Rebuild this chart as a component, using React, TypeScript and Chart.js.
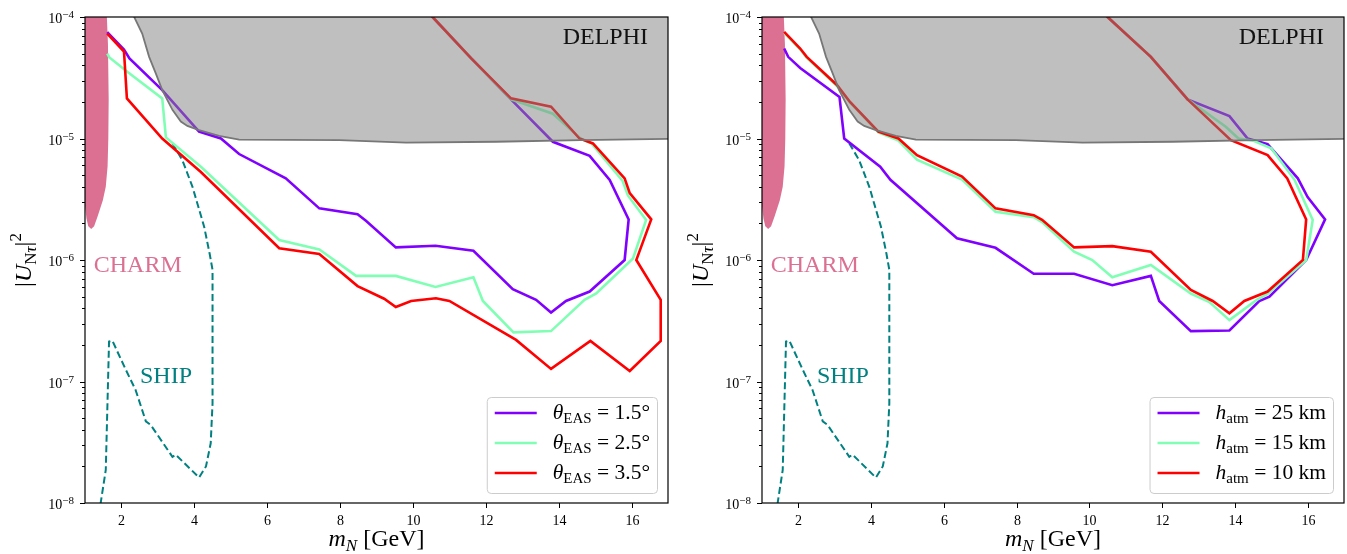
import React, { useEffect, useRef } from 'react';
import { Chart, registerables } from 'chart.js';

Chart.register(...registerables);

const FONT = '"Liberation Serif", "DejaVu Serif", serif';

// ---------- axes ----------
const X_MIN = 1;
const X_MAX = 17;
const Y_MIN = 1e-8;
const Y_MAX = 1e-4;
const X_TICKS = [2, 4, 6, 8, 10, 12, 14, 16];
const Y_DECADES = [-8, -7, -6, -5, -4];
const MINOR_MULTIPLIERS = [2, 3, 4, 5, 6, 7, 8, 9];

type Pt = [number, number];

// ---------- shared regions ----------
const DELPHI: Pt[] = [
  [2.25, 2e-4], [2.35, 1.0e-4], [2.57, 7.3e-5], [2.76, 4.7e-5], [2.94, 3.45e-5],
  [3.12, 2.5e-5], [3.4, 1.72e-5], [3.63, 1.38e-5], [3.81, 1.27e-5], [4.13, 1.17e-5],
  [4.68, 1.05e-5], [5.23, 9.8e-6], [7.98, 9.7e-6], [9.81, 9.25e-6], [12.28, 9.4e-6],
  [14.6, 9.7e-6], [17.5, 1.0e-5], [17.5, 2e-4],
];

const CHARM: Pt[] = [
  [1.6, 2e-4], [1.6, 1e-4], [1.63, 6e-5], [1.65, 2.1e-5], [1.64, 1e-5], [1.62, 5.9e-6],
  [1.57, 4e-6], [1.49, 3.1e-6], [1.35, 2.3e-6], [1.25, 1.9e-6], [1.17, 1.8e-6],
  [1.09, 1.9e-6], [1.04, 2.2e-6], [1.0, 2.8e-6], [0.9, 5e-6], [0.9, 2e-4],
];

const SHIP: Pt[] = [
  [1.41, 8e-9], [1.43, 1.0e-8], [1.57, 1.87e-8], [1.66, 2.13e-7], [1.75, 2.17e-7],
  [2.12, 1.25e-7], [2.39, 8.5e-8], [2.67, 4.7e-8], [2.8, 4.4e-8], [3.4, 2.4e-8],
  [3.49, 2.5e-8], [4.13, 1.62e-8], [4.32, 2.0e-8], [4.45, 3.1e-8], [4.5, 6.6e-8],
  [4.5, 8.3e-7], [4.42, 1.13e-6], [4.27, 1.88e-6], [3.95, 4.0e-6], [3.67, 6.65e-6],
  [3.4, 9.1e-6], [3.36, 9.5e-6],
];

// ---------- left panel: theta_EAS ----------
const THETA_15: Pt[] = [
  [1.61, 7.5e-5], [2.07, 5.4e-5], [2.22, 4.57e-5], [3.12, 2.5e-5], [4.13, 1.14e-5],
  [4.73, 1.0e-5], [5.23, 7.45e-6], [6.51, 4.7e-6], [7.43, 2.66e-6], [8.48, 2.38e-6],
  [8.71, 2.1e-6], [9.53, 1.27e-6], [10.62, 1.31e-6], [11.66, 1.19e-6], [12.74, 5.76e-7],
  [13.38, 4.7e-7], [13.79, 3.7e-7], [14.2, 4.6e-7], [14.85, 5.5e-7], [15.81, 1.0e-6],
  [15.92, 2.16e-6], [15.4, 4.56e-6], [14.85, 7.2e-6], [13.84, 9.4e-6], [12.69, 2.1e-5],
  [11.6, 4.57e-5], [10.54, 1.0e-4], [9.9, 1.6e-4],
];
const THETA_25: Pt[] = [
  [1.61, 5.0e-5], [1.67, 4.65e-5], [2.16, 3.55e-5], [3.12, 2.14e-5], [3.22, 1.02e-5],
  [4.18, 5.86e-6], [6.33, 1.46e-6], [7.43, 1.22e-6], [8.44, 7.4e-7], [9.53, 7.4e-7],
  [10.62, 6.0e-7], [11.66, 7.2e-7], [11.92, 4.6e-7], [12.76, 2.54e-7], [13.79, 2.6e-7],
  [14.71, 4.7e-7], [15.03, 5.3e-7], [16.04, 1.03e-6], [16.4, 2.14e-6], [15.9, 3.4e-6],
  [15.75, 4.5e-6], [14.9, 9.1e-6], [14.6, 1.0e-5], [13.84, 1.6e-5], [12.69, 2.1e-5],
  [11.6, 4.57e-5], [10.54, 1.0e-4], [9.9, 1.6e-4],
];
const THETA_35: Pt[] = [
  [1.61, 7.3e-5], [2.07, 5.2e-5], [2.15, 2.14e-5], [3.12, 1.0e-5], [4.18, 5.3e-6],
  [6.33, 1.25e-6], [7.43, 1.12e-6], [8.48, 6.1e-7], [9.21, 4.8e-7], [9.53, 4.1e-7],
  [9.95, 4.6e-7], [10.63, 4.84e-7], [11.0, 4.6e-7], [12.83, 2.2e-7], [13.79, 1.27e-7],
  [14.87, 2.16e-7], [15.95, 1.22e-7], [16.8, 2.16e-7], [16.8, 4.7e-7], [16.13, 1.0e-6],
  [16.54, 2.16e-6], [15.95, 3.55e-6], [15.81, 4.7e-6], [14.94, 9.1e-6], [14.57, 1.0e-5],
  [13.79, 1.83e-5], [12.69, 2.14e-5], [11.6, 4.57e-5], [10.54, 1.0e-4], [9.9, 1.6e-4],
];

// ---------- right panel: h_atm ----------
const HATM_25: Pt[] = [
  [1.61, 5.5e-5], [1.72, 4.7e-5], [2.05, 3.8e-5], [3.13, 2.2e-5], [3.26, 1.0e-5],
  [4.25, 5.86e-6], [4.53, 4.57e-6], [6.36, 1.51e-6], [7.42, 1.26e-6], [8.47, 7.7e-7],
  [9.58, 7.7e-7], [10.63, 6.2e-7], [11.69, 7.4e-7], [11.92, 4.6e-7], [12.79, 2.6e-7],
  [13.85, 2.63e-7], [14.67, 4.6e-7], [14.95, 5.0e-7], [15.96, 1.0e-6], [16.48, 2.16e-6],
  [16.0, 3.3e-6], [15.73, 4.7e-6], [14.9, 9.0e-6], [14.35, 1.0e-5], [13.85, 1.53e-5],
  [12.7, 2.1e-5], [11.69, 4.7e-5], [10.5, 1.0e-4], [9.9, 1.55e-4],
];
const HATM_15: Pt[] = [
  [1.61, 7.4e-5], [2.05, 5.4e-5], [2.23, 4.6e-5], [3.06, 2.7e-5], [3.42, 1.98e-5],
  [4.2, 1.12e-5], [4.75, 9.6e-6], [5.26, 6.7e-6], [6.5, 4.6e-6], [7.42, 2.5e-6],
  [8.47, 2.25e-6], [8.7, 2.05e-6], [9.58, 1.17e-6], [10.08, 1.0e-6], [10.63, 7.2e-7],
  [11.69, 9.1e-7], [12.79, 5.3e-7], [13.3, 4.5e-7], [13.85, 3.2e-7], [14.6, 4.7e-7],
  [14.9, 5.25e-7], [15.96, 1.0e-6], [16.14, 2.14e-6], [15.64, 4.57e-6], [15.0, 8.3e-6],
  [14.5, 9.6e-6], [14.1, 1.0e-5], [13.75, 1.25e-5], [12.7, 2.1e-5], [11.69, 4.7e-5],
  [10.5, 1.0e-4], [9.9, 1.55e-4],
];
const HATM_10: Pt[] = [
  [1.61, 7.55e-5], [2.05, 5.5e-5], [2.23, 4.7e-5], [3.06, 2.76e-5], [3.42, 2.0e-5],
  [4.2, 1.14e-5], [4.75, 1.0e-5], [5.26, 7.3e-6], [6.5, 4.86e-6], [7.42, 2.66e-6],
  [8.47, 2.34e-6], [8.7, 2.14e-6], [9.58, 1.27e-6], [10.63, 1.3e-6], [11.69, 1.17e-6],
  [12.79, 5.67e-7], [13.39, 4.6e-7], [13.85, 3.64e-7], [14.26, 4.6e-7], [14.9, 5.5e-7],
  [15.87, 1.0e-6], [15.96, 2.16e-6], [15.44, 4.7e-6], [14.9, 7.3e-6], [13.89, 9.7e-6],
  [12.7, 2.1e-5], [11.69, 4.7e-5], [10.5, 1.0e-4], [9.9, 1.55e-4],
];

const CURVE_COLORS = ['#8000FF', '#80FFB4', '#FF0000'];
const THETA_LABELS = ['1.5', '2.5', '3.5'];
const HATM_LABELS = ['25', '15', '10'];

const CHARM_LABEL_POS: Pt = [1.24, 8.0e-7];
const SHIP_LABEL_POS: Pt = [2.51, 9.8e-8];

const CHARM_COLOR = '#DB7093';
const SHIP_COLOR = '#008080';

// ---------- rich text helpers ----------
type Seg = { t: string; size: number; italic?: boolean; dy?: number };

function setFont(ctx: CanvasRenderingContext2D, s: Seg) {
  ctx.font = `${s.italic ? 'italic ' : ''}${s.size}px ${FONT}`;
}
function richWidth(ctx: CanvasRenderingContext2D, segs: Seg[]) {
  let w = 0;
  for (const s of segs) {
    setFont(ctx, s);
    w += ctx.measureText(s.t).width;
  }
  return w;
}
function drawRich(ctx: CanvasRenderingContext2D, segs: Seg[], x: number, y: number) {
  let cx = x;
  for (const s of segs) {
    setFont(ctx, s);
    ctx.fillText(s.t, cx, y + (s.dy || 0));
    cx += ctx.measureText(s.t).width;
  }
}

const LEG = 21.5;
const LEG_SUB = 15;
const TITLE = 24;
const TITLE_SUB = 17;

function thetaLabel(v: string): Seg[] {
  return [
    { t: 'θ', size: LEG, italic: true },
    { t: 'EAS', size: LEG_SUB, dy: 4 },
    { t: ` = ${v}°`, size: LEG },
  ];
}
function hatmLabel(v: string): Seg[] {
  return [
    { t: 'h', size: LEG, italic: true },
    { t: 'atm', size: LEG_SUB, dy: 4 },
    { t: ` = ${v} km`, size: LEG },
  ];
}

const Y_TITLE: Seg[] = [
  { t: '|', size: TITLE },
  { t: 'U', size: TITLE, italic: true },
  { t: 'N', size: TITLE_SUB, dy: 5 },
  { t: 'τ', size: TITLE_SUB, italic: true, dy: 5 },
  { t: '|', size: TITLE },
  { t: '2', size: TITLE_SUB, dy: -10 },
];
const X_TITLE: Seg[] = [
  { t: 'm', size: TITLE, italic: true },
  { t: 'N', size: TITLE_SUB, italic: true, dy: 5 },
  { t: ' [GeV]', size: TITLE },
];

type Panel = {
  canvasLeft: number;
  canvasWidth: number;
  padLeft: number;
  padRight: number;
  curves: Pt[][];
  labels: Seg[][];
};

const PANELS: Panel[] = [
  {
    canvasLeft: 0,
    canvasWidth: 676,
    padLeft: 85,
    padRight: 8,
    curves: [THETA_15, THETA_25, THETA_35],
    labels: THETA_LABELS.map(thetaLabel),
  },
  {
    canvasLeft: 676,
    canvasWidth: 671,
    padLeft: 86,
    padRight: 3,
    curves: [HATM_25, HATM_15, HATM_10],
    labels: HATM_LABELS.map(hatmLabel),
  },
];

const toXY = (p: Pt) => ({ x: p[0], y: p[1] });

function makeDecor(panel: Panel) {
  return {
    id: 'decor',
    afterDatasetsDraw(chart: any) {
      const ctx: CanvasRenderingContext2D = chart.ctx;
      const a = chart.chartArea;
      const xs = chart.scales.x;
      const ys = chart.scales.y;
      ctx.save();
      ctx.textBaseline = 'alphabetic';
      // DELPHI
      ctx.fillStyle = '#111';
      ctx.font = `24px ${FONT}`;
      ctx.textAlign = 'right';
      ctx.fillText('DELPHI', a.right - 20, a.top + 27);
      ctx.textAlign = 'left';
      // CHARM
      ctx.fillStyle = CHARM_COLOR;
      ctx.fillText('CHARM', xs.getPixelForValue(CHARM_LABEL_POS[0]), ys.getPixelForValue(CHARM_LABEL_POS[1]));
      // SHIP
      ctx.fillStyle = SHIP_COLOR;
      ctx.fillText('SHIP', xs.getPixelForValue(SHIP_LABEL_POS[0]), ys.getPixelForValue(SHIP_LABEL_POS[1]));
      ctx.restore();
    },
    afterDraw(chart: any) {
      const ctx: CanvasRenderingContext2D = chart.ctx;
      const a = chart.chartArea;
      const xs = chart.scales.x;
      const ys = chart.scales.y;
      ctx.save();
      // frame
      ctx.strokeStyle = '#000';
      ctx.lineWidth = 1.2;
      ctx.strokeRect(a.left, a.top, a.right - a.left, a.bottom - a.top);
      // x ticks
      ctx.lineWidth = 1;
      ctx.fillStyle = '#000';
      ctx.textAlign = 'center';
      ctx.textBaseline = 'alphabetic';
      ctx.font = `14px ${FONT}`;
      for (const v of X_TICKS) {
        const px = Math.round(xs.getPixelForValue(v)) + 0.5;
        ctx.beginPath();
        ctx.moveTo(px, a.bottom);
        ctx.lineTo(px, a.bottom + 5);
        ctx.stroke();
        ctx.fillText(String(v), px, a.bottom + 22);
      }
      // y ticks
      ctx.textAlign = 'left';
      for (const d of Y_DECADES) {
        const py = Math.round(ys.getPixelForValue(Math.pow(10, d))) + 0.5;
        ctx.beginPath();
        ctx.moveTo(a.left - 5, py);
        ctx.lineTo(a.left, py);
        ctx.stroke();
        const segs: Seg[] = [
          { t: '10', size: 14 },
          { t: '\u2212' + String(-d), size: 11, dy: -5 },
        ];
        const w = richWidth(ctx, segs);
        drawRich(ctx, segs, a.left - 11 - w, py + 5);
        if (d < -4) {
          for (const m of MINOR_MULTIPLIERS) {
            const my = Math.round(ys.getPixelForValue(m * Math.pow(10, d))) + 0.5;
            ctx.beginPath();
            ctx.moveTo(a.left - 3, my);
            ctx.lineTo(a.left, my);
            ctx.stroke();
          }
        }
      }
      // axis titles
      const xw = richWidth(ctx, X_TITLE);
      drawRich(ctx, X_TITLE, (a.left + a.right) / 2 - xw / 2, a.bottom + 43);
      const yw = richWidth(ctx, Y_TITLE);
      ctx.save();
      ctx.translate(a.left - 54, (a.top + a.bottom) / 2);
      ctx.rotate(-Math.PI / 2);
      drawRich(ctx, Y_TITLE, -yw / 2, 0);
      ctx.restore();
      // legend
      let tw = 0;
      for (const l of panel.labels) tw = Math.max(tw, richWidth(ctx, l));
      const boxW = 66 + tw + 7;
      const boxH = 96;
      const bx = a.right - 11 - boxW;
      const by = a.bottom - 10 - boxH;
      ctx.beginPath();
      ctx.roundRect(bx + 0.5, by + 0.5, boxW, boxH, 4);
      ctx.fillStyle = 'rgba(255,255,255,0.8)';
      ctx.fill();
      ctx.strokeStyle = '#cccccc';
      ctx.lineWidth = 1;
      ctx.stroke();
      panel.labels.forEach((l, i) => {
        const ry = by + 16 + i * 30;
        ctx.strokeStyle = CURVE_COLORS[i];
        ctx.lineWidth = 2.6;
        ctx.beginPath();
        ctx.moveTo(bx + 8, ry);
        ctx.lineTo(bx + 50, ry);
        ctx.stroke();
        ctx.fillStyle = '#000';
        drawRich(ctx, l, bx + 66, ry + 6);
      });
      ctx.restore();
    },
  };
}

function buildConfig(panel: Panel): any {
  const line = (pts: Pt[], color: string, order: number) => ({
    data: pts.map(toXY),
    borderColor: color,
    borderWidth: 2.6,
    pointRadius: 0,
    tension: 0,
    fill: false,
    order,
    clip: 0,
  });
  return {
    type: 'line',
    data: {
      datasets: [
        {
          data: DELPHI.map(toXY),
          borderColor: '#777777',
          borderWidth: 1.8,
          backgroundColor: 'rgba(128,128,128,0.5)',
          fill: 'shape',
          pointRadius: 0,
          tension: 0,
          order: 0,
          clip: 0,
        },
        line(panel.curves[2], CURVE_COLORS[2], 1),
        line(panel.curves[1], CURVE_COLORS[1], 2),
        line(panel.curves[0], CURVE_COLORS[0], 3),
        {
          data: SHIP.map(toXY),
          borderColor: SHIP_COLOR,
          borderWidth: 2,
          borderDash: [7, 3.5],
          pointRadius: 0,
          tension: 0,
          fill: false,
          order: 4,
          clip: 0,
        },
        {
          data: CHARM.map(toXY),
          borderColor: CHARM_COLOR,
          borderWidth: 0,
          backgroundColor: CHARM_COLOR,
          fill: 'shape',
          pointRadius: 0,
          tension: 0,
          order: 5,
          clip: 0,
        },
      ],
    },
    options: {
      responsive: false,
      animation: false,
      devicePixelRatio: 1,
      events: [],
      layout: { padding: { left: panel.padLeft, right: panel.padRight, top: 17, bottom: 51 } },
      scales: {
        x: { type: 'linear', min: X_MIN, max: X_MAX, display: false },
        y: { type: 'logarithmic', min: Y_MIN, max: Y_MAX, display: false },
      },
      plugins: { legend: { display: false }, tooltip: { enabled: false } },
    },
    plugins: [makeDecor(panel)],
  };
}

function PanelChart({ panel }: { panel: Panel }) {
  const ref = useRef<HTMLCanvasElement>(null);
  useEffect(() => {
    const chart = new Chart(ref.current as HTMLCanvasElement, buildConfig(panel));
    return () => chart.destroy();
  }, [panel]);
  return (
    <canvas
      ref={ref}
      width={panel.canvasWidth}
      height={554}
      style={{ position: 'absolute', left: panel.canvasLeft, top: 0, width: panel.canvasWidth, height: 554 }}
    />
  );
}

export default function App() {
  return (
    <div style={{ position: 'absolute', left: 0, top: 0, width: 1347, height: 554, background: '#fff' }}>
      {PANELS.map((p, i) => (
        <PanelChart key={i} panel={p} />
      ))}
    </div>
  );
}
